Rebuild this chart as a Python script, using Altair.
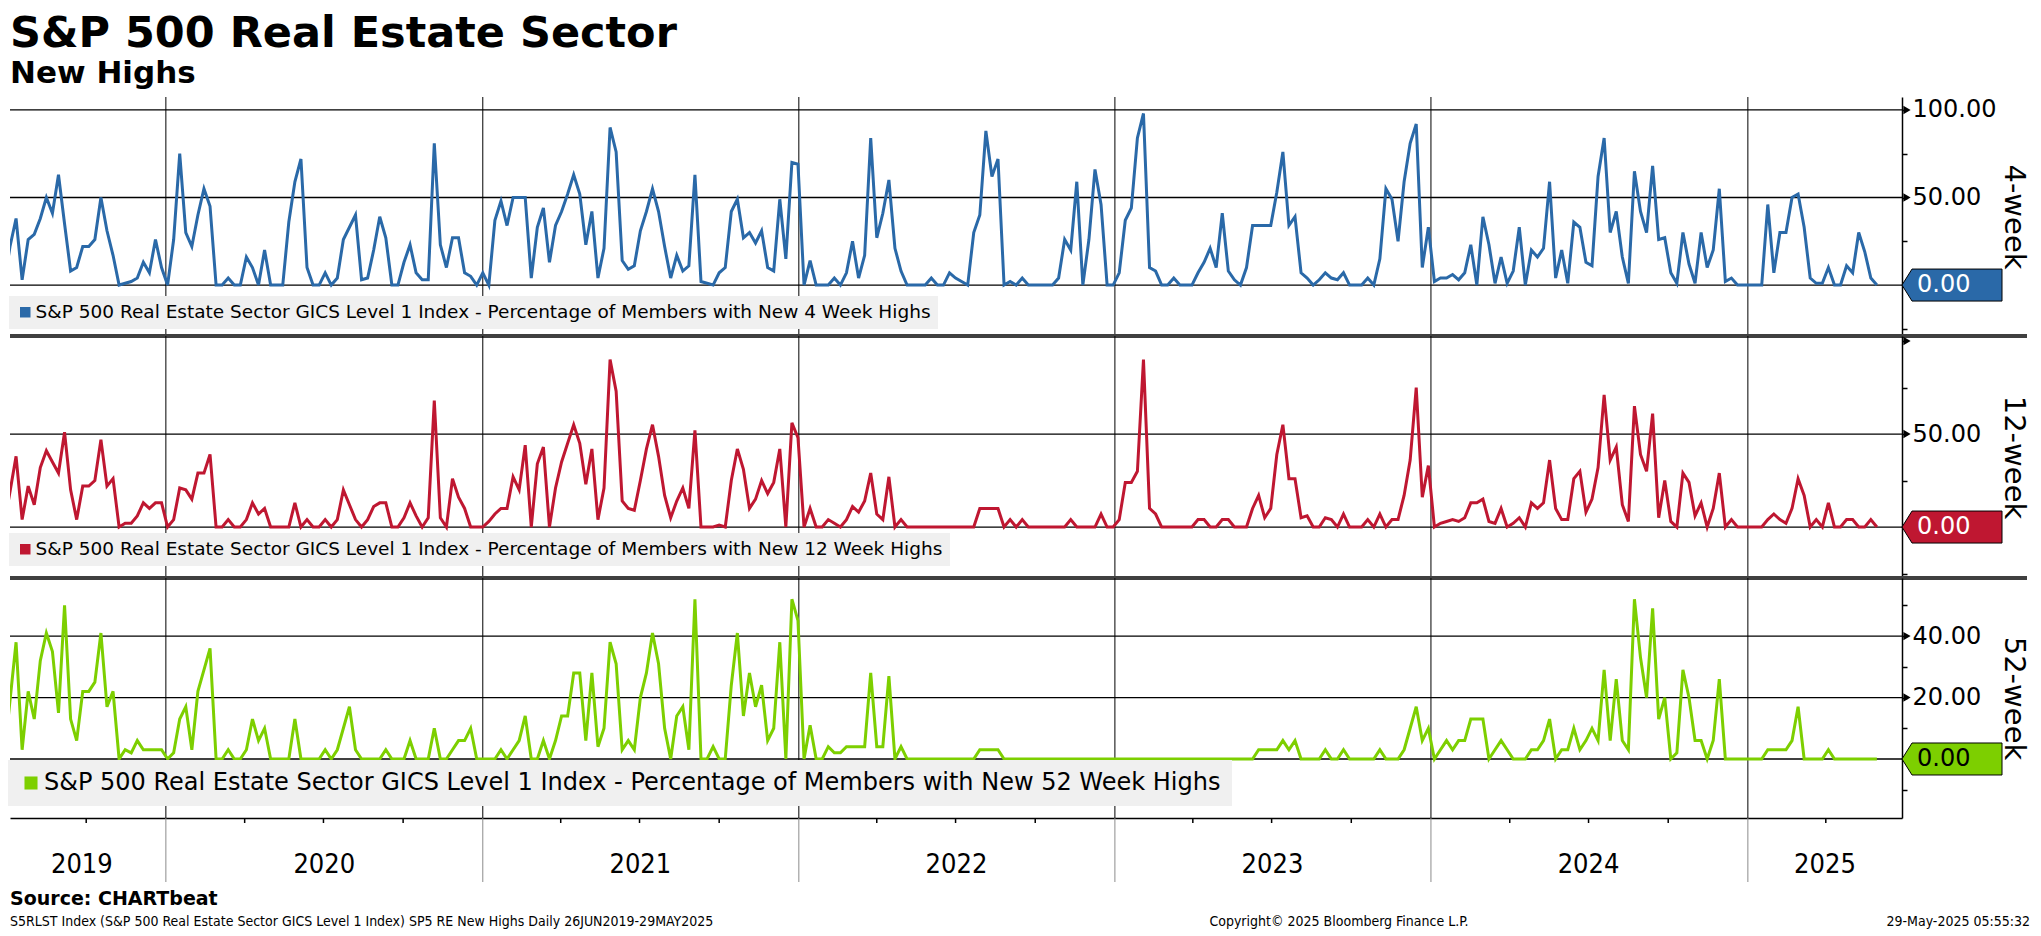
import altair as alt
import pandas as pd

# ---------------- data (weekly readings of the three series) ----------------
DATES = pd.date_range("2019-06-28", periods=310, freq="7D")

BLUE_4W = [
    0, 22, 38, 3, 26, 29, 38, 50, 41, 63,
    35, 8, 10, 22, 22, 26, 50, 31, 17, 0,
    1, 2, 4, 13, 7, 26, 10, 0, 26, 75,
    30, 22, 40, 55, 45, 0, 0, 4, 0, 0,
    16, 10, 0, 20, 0, 0, 0, 36, 59, 72,
    10, 0, 0, 7, 0, 4, 26, 33, 40, 3,
    4, 20, 39, 27, 0, 0, 13, 23, 7, 3,
    3, 81, 23, 10, 27, 27, 7, 5, 0, 7,
    0, 37, 48, 34, 50, 50, 50, 4, 33, 44,
    13, 34, 42, 52, 63, 52, 23, 42, 4, 21,
    90, 76, 14, 9, 11, 31, 42, 55, 42, 22,
    4, 17, 8, 11, 63, 2, 1, 0, 7, 10,
    42, 49, 27, 30, 24, 31, 10, 8, 49, 15,
    70, 69, 0, 14, 0, 0, 0, 4, 0, 7,
    25, 4, 17, 84, 27, 41, 60, 21, 8, 0,
    0, 0, 0, 4, 0, 0, 7, 4, 2, 0,
    30, 40, 88, 62, 72, 0, 2, 0, 4, 0,
    0, 0, 0, 0, 4, 26, 20, 59, 0, 26,
    66, 46, 0, 0, 7, 37, 44, 84, 98, 10,
    8, 0, 0, 4, 0, 0, 0, 7, 13, 21,
    10, 41, 8, 3, 0, 10, 34, 34, 34, 34,
    53, 76, 34, 39, 7, 4, 0, 3, 7, 4,
    3, 7, 0, 0, 0, 4, 0, 15, 55, 49,
    25, 59, 81, 92, 10, 33, 2, 4, 4, 6,
    3, 7, 23, 0, 39, 23, 1, 16, 1, 8,
    33, 0, 20, 16, 21, 59, 4, 20, 1, 36,
    33, 13, 11, 62, 84, 30, 42, 16, 1, 65,
    42, 30, 68, 26, 27, 7, 1, 30, 12, 1,
    30, 10, 20, 55, 2, 4, 0, 0, 0, 0,
    0, 46, 7, 30, 30, 50, 52, 33, 4, 1,
    1, 10, 0, 0, 11, 7, 30, 19, 4, 0,
]

RED_12W = [
    0, 19, 38, 4, 22, 12, 32, 41, 35, 29,
    51, 20, 4, 22, 22, 25, 47, 22, 26, 0,
    2, 2, 6, 13, 10, 13, 13, 0, 4, 21,
    20, 15, 29, 29, 39, 0, 0, 4, 0, 0,
    4, 13, 7, 10, 0, 0, 0, 0, 13, 0,
    4, 0, 0, 4, 0, 4, 20, 12, 4, 0,
    4, 11, 13, 13, 0, 0, 5, 13, 6, 0,
    5, 68, 5, 0, 26, 16, 10, 0, 0, 0,
    3, 7, 10, 10, 27, 20, 44, 0, 34, 43,
    0, 21, 35, 45, 55, 45, 23, 42, 4, 21,
    90, 73, 14, 10, 9, 25, 42, 55, 38, 17,
    5, 14, 21, 10, 52, 0, 0, 0, 1, 0,
    25, 42, 31, 10, 15, 25, 18, 24, 42, 0,
    56, 48, 0, 10, 0, 0, 4, 2, 0, 4,
    11, 8, 14, 29, 7, 4, 27, 0, 4, 0,
    0, 0, 0, 0, 0, 0, 0, 0, 0, 0,
    0, 10, 10, 10, 10, 0, 4, 0, 4, 0,
    0, 0, 0, 0, 0, 0, 4, 0, 0, 0,
    0, 7, 0, 0, 4, 24, 24, 30, 90, 10,
    7, 0, 0, 0, 0, 0, 0, 4, 4, 0,
    0, 4, 4, 0, 0, 0, 10, 17, 5, 10,
    39, 55, 26, 26, 5, 6, 0, 0, 5, 4,
    0, 7, 0, 0, 0, 4, 0, 7, 0, 4,
    4, 17, 36, 75, 16, 33, 0, 2, 3, 4,
    3, 5, 13, 13, 15, 3, 2, 10, 0, 2,
    5, 0, 13, 10, 13, 36, 10, 4, 4, 26,
    30, 8, 15, 32, 71, 36, 43, 12, 3, 65,
    39, 30, 61, 5, 25, 3, 0, 29, 24, 6,
    13, 0, 10, 29, 0, 4, 0, 0, 0, 0,
    0, 4, 7, 4, 2, 10, 26, 17, 0, 4,
    0, 13, 0, 0, 4, 4, 0, 0, 4, 0,
]

GREEN_52W = [
    0, 19, 38, 3, 22, 13, 32, 41, 35, 15,
    50, 13, 6, 22, 22, 25, 41, 17, 22, 0,
    3, 2, 6, 3, 3, 3, 3, 0, 2, 13,
    17, 3, 22, 29, 36, 0, 0, 3, 0, 0,
    3, 13, 6, 10, 0, 0, 0, 0, 13, 0,
    0, 0, 0, 3, 0, 3, 10, 17, 3, 0,
    0, 0, 0, 3, 0, 0, 0, 6, 0, 0,
    0, 10, 0, 0, 3, 6, 6, 10, 0, 0,
    0, 0, 3, 0, 3, 6, 14, 0, 0, 6,
    0, 6, 14, 14, 28, 28, 6, 28, 4, 10,
    38, 31, 3, 6, 3, 20, 28, 41, 31, 10,
    0, 14, 17, 3, 52, 0, 0, 4, 0, 0,
    24, 41, 14, 28, 17, 24, 6, 10, 38, 0,
    52, 45, 0, 11, 0, 0, 4, 2, 2, 4,
    4, 4, 4, 28, 4, 4, 27, 0, 4, 0,
    0, 0, 0, 0, 0, 0, 0, 0, 0, 0,
    0, 3, 3, 3, 3, 0, 0, 0, 0, 0,
    0, 0, 0, 0, 0, 0, 0, 0, 0, 0,
    0, 0, 0, 0, 0, 0, 0, 0, 0, 0,
    0, 0, 0, 0, 0, 0, 0, 0, 0, 0,
    0, 0, 0, 0, 0, 0, 0, 3, 3, 3,
    3, 6, 3, 6, 0, 0, 0, 0, 3, 0,
    0, 3, 0, 0, 0, 0, 0, 3, 0, 0,
    0, 3, 10, 17, 6, 10, 0, 3, 6, 3,
    6, 6, 13, 13, 13, 0, 3, 6, 3, 0,
    0, 0, 3, 3, 6, 13, 0, 3, 3, 10,
    3, 6, 10, 6, 29, 6, 26, 6, 3, 52,
    33, 20, 49, 13, 20, 0, 2, 29, 20, 6,
    6, 0, 6, 26, 0, 0, 0, 0, 0, 0,
    0, 3, 3, 3, 3, 6, 17, 0, 0, 0,
    0, 3, 0, 0, 0, 0, 0, 0, 0, 0,
]

SERIES_VALUES = [BLUE_4W, RED_12W, GREEN_52W]
SERIES_LABELS = [
    "S&P 500 Real Estate Sector GICS Level 1 Index - Percentage of Members with New 4 Week Highs",
    "S&P 500 Real Estate Sector GICS Level 1 Index - Percentage of Members with New 12 Week Highs",
    "S&P 500 Real Estate Sector GICS Level 1 Index - Percentage of Members with New 52 Week Highs",
]
PANEL_TITLES = ["4-week", "12-week", "52-week"]
COLORS = ["#2a69a8", "#bf1731", "#7dcf00"]

X_DOMAIN = ["2019-07-05", "2025-06-28"]
YEAR_BOUNDS = ["2020-01-01", "2021-01-01", "2022-01-01", "2023-01-01", "2024-01-01", "2025-01-01"]
YEAR_LABELS = ["2019", "2020", "2021", "2022", "2023", "2024", "2025"]
YEAR_LABEL_DATES = ["2019-09-26", "2020-07-02", "2021-07-02", "2022-07-02",
                    "2023-07-02", "2024-07-01", "2025-03-31"]
QUARTER_TICKS = ["2019-10-01", "2020-04-01", "2020-07-01", "2020-10-01",
                 "2021-04-01", "2021-07-01", "2021-10-01", "2022-04-01", "2022-07-01",
                 "2022-10-01", "2023-04-01", "2023-07-01", "2023-10-01", "2024-04-01",
                 "2024-07-01", "2024-10-01", "2025-04-01"]

FONT = "DejaVu Sans"
FONT_C = "DejaVu Sans Condensed"
W = 1892

for v in SERIES_VALUES:
    assert len(v) == len(DATES)

TAG_PATH = "M -1 0 L -0.8 -0.32 L 1 -0.32 L 1 0.32 L -0.8 0.32 Z"


def panel(i, H, ydom, ticks, label_vals, grid_vals, arrow_vals,
          legend_x, legend_y, legend_size, legend_pad, sym_size, bottom):
    color = COLORS[i]
    vals = SERIES_VALUES[i]
    df = pd.DataFrame({"date": DATES, "value": vals, "series": SERIES_LABELS[i]})
    xs = alt.Scale(domain=X_DOMAIN)
    ys = alt.Scale(domain=ydom, nice=False, zero=False)
    cond = " || ".join(f"datum.value == {v}" for v in label_vals)
    yaxis = alt.Axis(
        orient="right", values=ticks,
        labelExpr=f"({cond}) ? format(datum.value, '.2f') : ''",
        grid=False, domainColor="black", domainWidth=1.5,
        tickColor="black", tickSize=5, tickWidth=1.5,
        labelFont=FONT, labelFontSize=24, labelColor="black",
        labelPadding=5, labelOverlap=False, labelBaseline="middle",
        title=PANEL_TITLES[i], titleAngle=90, titleFont=FONT,
        titleFontSize=29, titleFontWeight="normal", titleColor="black",
        titleX=111, titleY=H / 2, titleAlign="center", titleBaseline="middle",
    )
    if bottom:
        xaxis = alt.Axis(values=YEAR_BOUNDS, labels=False, ticks=False, grid=False,
                         domainColor="black", domainWidth=1.5, title=None)
    else:
        xaxis = None

    def X(field="date"):
        return alt.X(f"{field}:T", scale=xs, axis=xaxis)

    def Y(field="value"):
        return alt.Y(f"{field}:Q", scale=ys, axis=yaxis)

    vgrid = alt.Chart(pd.DataFrame({"date": pd.to_datetime(YEAR_BOUNDS)})).mark_rule(
        color="black", strokeWidth=1).encode(x=X())
    hgrid = alt.Chart(pd.DataFrame({"value": grid_vals})).mark_rule(
        color="black", strokeWidth=1.3).encode(y=Y())
    line = alt.Chart(df).mark_line(strokeWidth=3, clip=True).encode(
        x=X(),
        y=Y(),
        color=alt.Color("series:N", scale=alt.Scale(domain=[SERIES_LABELS[i]], range=[color]),
                        legend=alt.Legend(
                            orient="none", legendX=legend_x, legendY=legend_y, title=None,
                            fillColor="#f0f0f0", padding=legend_pad,
                            symbolType="square", symbolSize=sym_size,
                            symbolFillColor=color, symbolStrokeColor=color, symbolStrokeWidth=0,
                            labelFont=FONT, labelFontSize=legend_size, labelColor="black",
                            labelLimit=3000, labelOffset=1)),
    )
    arrows = alt.Chart(pd.DataFrame({"value": arrow_vals})).mark_point(
        shape="triangle-right", filled=True, size=70, color="black", opacity=1
    ).encode(x=alt.value(W + 5), y=Y())
    last = pd.DataFrame({"value": [vals[-1]], "label": [f"{vals[-1]:.2f}"]})
    tag = alt.Chart(last).mark_point(
        shape=TAG_PATH, size=10000, filled=True, fill=color, stroke="black",
        strokeWidth=1, opacity=1
    ).encode(x=alt.value(W + 50), y=Y())
    tag_text = alt.Chart(last).mark_text(
        align="left", baseline="middle", font=FONT, fontSize=24,
        color="black" if i == 2 else "white"
    ).encode(x=alt.value(W + 15), y=Y(), text="label:N")

    layers = [vgrid, hgrid, line, arrows, tag, tag_text]
    one = pd.DataFrame({"k": [0]})
    if not bottom:
        sep = alt.Chart(one).mark_rule(color="#404040", strokeWidth=4).encode(
            x=alt.value(0), x2=alt.value(W + 125), y=alt.value(H))
        layers.append(sep)
    else:
        qt = alt.Chart(pd.DataFrame({"date": pd.to_datetime(QUARTER_TICKS)})).mark_rule(
            color="black", strokeWidth=1.5).encode(
            x=X(), y=alt.value(H), y2=alt.value(H + 5))
        yb = alt.Chart(pd.DataFrame({"date": pd.to_datetime(YEAR_BOUNDS)})).mark_rule(
            color="#8c8c8c", strokeWidth=1).encode(
            x=X(), y=alt.value(H), y2=alt.value(H + 64))
        yl = alt.Chart(pd.DataFrame({"date": pd.to_datetime(YEAR_LABEL_DATES),
                                     "label": YEAR_LABELS})).mark_text(
            font=FONT_C, fontSize=27, color="black", baseline="middle", align="center"
        ).encode(x=X(), y=alt.value(H + 47), text="label:N")
        foot = pd.DataFrame({"t": ["Source: CHARTbeat"]})
        src = alt.Chart(foot).mark_text(font=FONT, fontSize=19, fontWeight="bold",
                                        align="left", baseline="alphabetic", color="black").encode(
            x=alt.value(0), y=alt.value(H + 87), text="t:N")
        f2 = alt.Chart(pd.DataFrame({"t": [
            "S5RLST Index (S&P 500 Real Estate Sector GICS Level 1 Index) SP5 RE New Highs  Daily 26JUN2019-29MAY2025"]})
        ).mark_text(font=FONT_C, fontSize=14, align="left", baseline="middle", color="black").encode(
            x=alt.value(0), y=alt.value(H + 104), text="t:N")
        f3 = alt.Chart(pd.DataFrame({"t": ["Copyright\u00a9 2025 Bloomberg Finance L.P."]})
                       ).mark_text(font=FONT_C, fontSize=14, align="center", baseline="middle",
                                   color="black").encode(
            x=alt.value(1329), y=alt.value(H + 104), text="t:N")
        f4 = alt.Chart(pd.DataFrame({"t": ["29-May-2025 05:55:32"]})
                       ).mark_text(font=FONT_C, fontSize=14, align="right", baseline="middle",
                                   color="black").encode(
            x=alt.value(2020), y=alt.value(H + 104), text="t:N")
        layers += [qt, yb, yl, src, f2, f3, f4]
    return alt.layer(*layers).properties(width=W, height=H)


p1 = panel(0, 239, [-29.1, 107.4], [-25, 0, 25, 50, 75, 100], [50, 100], [0, 50, 100],
           [50, 100], -1, 199, 18.5, 7, 110, False)
p2 = panel(1, 242, [-27.4, 102.7], [-25, 0, 25, 50, 75, 100], [50], [0, 50],
           [50, 100], -1, 197, 18.5, 7, 110, False)
p3 = panel(2, 240, [-19.2, 58.9], [-10, 0, 10, 20, 30, 40, 50], [20, 40], [0, 20, 40],
           [20, 40], -2, 182, 24, 11, 170, True)

chart = alt.vconcat(p1, p2, p3, spacing=0, bounds="flush").resolve_scale(
    y="independent", color="independent"
).resolve_legend(color="independent").properties(
    title=alt.TitleParams(
        text="S&P 500 Real Estate Sector", subtitle="New Highs", anchor="start",
        font=FONT, fontSize=43, fontWeight="bold", color="black",
        subtitleFont=FONT, subtitleFontSize=31, subtitleFontWeight="bold",
        subtitleColor="black", subtitlePadding=3, offset=8, frame="group"),
    background="white",
    padding={"left": 0, "top": 4, "right": 0, "bottom": 0},
).configure_view(stroke=None)

chart.save("out.html", embed_options={"renderer": "svg", "actions": False})
